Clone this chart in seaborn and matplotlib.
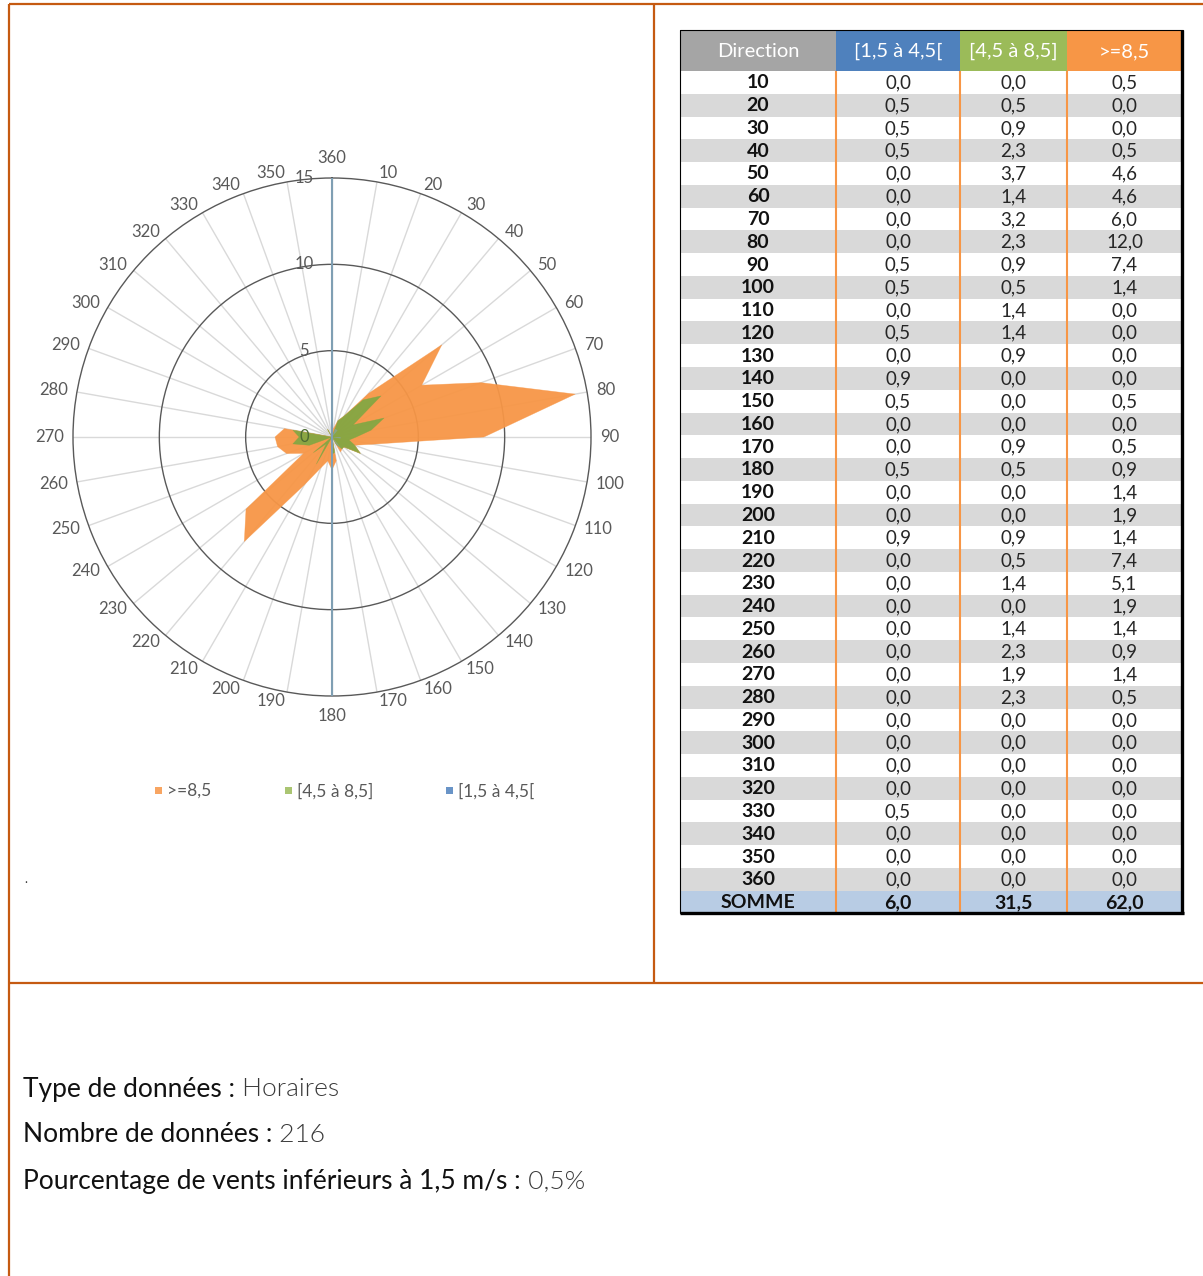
import numpy as np
import pandas as pd
import matplotlib
matplotlib.use("Agg")
import matplotlib.pyplot as plt
import matplotlib.transforms as mtransforms
from matplotlib.patches import Rectangle
import seaborn as sns

# ---------------- data ----------------
directions = [10, 20, 30, 40, 50, 60, 70, 80, 90, 100, 110, 120, 130, 140, 150, 160, 170, 180,
              190, 200, 210, 220, 230, 240, 250, 260, 270, 280, 290, 300, 310, 320, 330, 340, 350, 360]
low = [0.0, 0.5, 0.5, 0.5, 0.0, 0.0, 0.0, 0.0, 0.5, 0.5, 0.0, 0.5, 0.0, 0.9, 0.5, 0.0, 0.0, 0.5,
       0.0, 0.0, 0.9, 0.0, 0.0, 0.0, 0.0, 0.0, 0.0, 0.0, 0.0, 0.0, 0.0, 0.0, 0.5, 0.0, 0.0, 0.0]
mid = [0.0, 0.5, 0.9, 2.3, 3.7, 1.4, 3.2, 2.3, 0.9, 0.5, 1.4, 1.4, 0.9, 0.0, 0.0, 0.0, 0.9, 0.5,
       0.0, 0.0, 0.9, 0.5, 1.4, 0.0, 1.4, 2.3, 1.9, 2.3, 0.0, 0.0, 0.0, 0.0, 0.0, 0.0, 0.0, 0.0]
high = [0.5, 0.0, 0.0, 0.5, 4.6, 4.6, 6.0, 12.0, 7.4, 1.4, 0.0, 0.0, 0.0, 0.0, 0.5, 0.0, 0.5, 0.9,
        1.4, 1.9, 1.4, 7.4, 5.1, 1.9, 1.4, 0.9, 1.4, 0.5, 0.0, 0.0, 0.0, 0.0, 0.0, 0.0, 0.0, 0.0]
totals = [6.0, 31.5, 62.0]
series_names = ["[1,5 à 4,5[", "[4,5 à 8,5]", ">=8,5"]
series_colors = ["#4f81bd", "#9bbb59", "#f79646"]
fill_colors = ["#8aa6d6", "#77a842", "#f79646"]
radial_ticks = [0, 5, 10, 15]
info_labels = ["Type de données :", "Nombre de données :", "Pourcentage de vents inférieurs à 1,5 m/s :"]
info_values = ["Horaires", "216", "0,5%"]

# ---------------- setup ----------------
sns.set_theme(style="white")
plt.rcParams["font.family"] = ["Lato", "DejaVu Sans"]

W, H = 1203, 1276
fig = plt.figure(figsize=(W / 100, H / 100), dpi=100)
fig.patch.set_facecolor("white")

bg = fig.add_axes([0, 0, 1, 1])
bg.set_xlim(0, W)
bg.set_ylim(H, 0)
bg.axis("off")

BORDER = "#c55a11"
bg.plot([9, 9], [4, H], color=BORDER, lw=1.6, solid_capstyle="butt")
bg.plot([9, W], [4, 4], color=BORDER, lw=1.6, solid_capstyle="butt")
bg.plot([654, 654], [4, 983], color=BORDER, lw=1.6, solid_capstyle="butt")
bg.plot([9, W], [983, 983], color=BORDER, lw=1.6, solid_capstyle="butt")


def fmt(v):
    return f"{v:.1f}".replace(".", ",")


# ---------------- table ----------------
xe = [680, 836, 960, 1067, 1182]
ytop, yhead = 30, 71
rh = 22.77
head_cols = ["#a5a5a5"] + series_colors
head_txt = ["Direction"] + series_names
for j in range(4):
    bg.add_patch(Rectangle((xe[j], ytop), xe[j + 1] - xe[j], yhead - ytop, color=head_cols[j], lw=0))
    bg.text((xe[j] + xe[j + 1]) / 2, (ytop + yhead) / 2 + 1, head_txt[j], color="white",
            fontsize=14.5, ha="center", va="center")

cols = [low, mid, high]
for i, d in enumerate(directions):
    y0 = yhead + i * rh
    c = "white" if i % 2 == 0 else "#d9d9d9"
    bg.add_patch(Rectangle((xe[0], y0), xe[4] - xe[0], rh, color=c, lw=0))
    yc = y0 + rh / 2 + 0.5
    bg.text((xe[0] + xe[1]) / 2, yc, str(d), fontsize=14, fontweight="bold",
            color="#111111", ha="center", va="center")
    for j in range(3):
        bg.text((xe[j + 1] + xe[j + 2]) / 2, yc, fmt(cols[j][i]), fontsize=13.5,
                color="#262626", ha="center", va="center")

y0 = yhead + len(directions) * rh
bg.add_patch(Rectangle((xe[0], y0), xe[4] - xe[0], 913 - y0, color="#b8cce4", lw=0))
yc = (y0 + 913) / 2 + 0.5
bg.text((xe[0] + xe[1]) / 2, yc, "SOMME", fontsize=14, fontweight="bold",
        color="#111111", ha="center", va="center")
for j in range(3):
    bg.text((xe[j + 1] + xe[j + 2]) / 2, yc, fmt(totals[j]), fontsize=14, fontweight="bold",
            color="#111111", ha="center", va="center")

for x in xe[1:4]:
    bg.plot([x, x], [yhead, 913], color="#f79646", lw=1.5, solid_capstyle="butt")

bg.plot([680, 680], [ytop, 913], color="black", lw=0.8)
bg.plot([680, 1183], [ytop, ytop], color="black", lw=0.8)
bg.plot([1182, 1182], [ytop, 914], color="black", lw=2.4, solid_capstyle="butt")
bg.plot([680, 1183.5], [912.5, 912.5], color="black", lw=2.4, solid_capstyle="butt")

# ---------------- legend (manual) ----------------
leg_pos = [(155, series_names[2], series_colors[2]),
           (285, series_names[1], series_colors[1]),
           (446, series_names[0], series_colors[0])]
for x, name, c in leg_pos:
    bg.add_patch(Rectangle((x, 787), 7, 7, color=c, lw=0, alpha=0.85))
    bg.text(x + 12, 791, name, fontsize=12.5, color="#595959", ha="left", va="center")

bg.text(24, 879, ".", fontsize=9, color="#333333", ha="left", va="center")

# ---------------- info text ----------------
for k, (lab, val) in enumerate(zip(info_labels, info_values)):
    yc = 1089 + k * 46
    t1 = bg.text(23, yc, lab, fontsize=19, color="#111111", ha="left", va="center")
    bg.annotate(" " + val, xy=(1, 0), xycoords=t1, va="bottom", ha="left",
                fontsize=19, color="#3a3a3a", fontweight=300)

# ---------------- polar radar ----------------
cx, cy, R = 332, 437, 259
ax = fig.add_axes([(cx - R) / W, 1 - (cy + R) / H, 2 * R / W, 2 * R / H], projection="polar")
ax.patch.set_alpha(0)
ax.set_theta_zero_location("N")
ax.set_theta_direction(-1)

theta = np.radians(directions)
cum1 = np.array(low)
cum2 = cum1 + np.array(mid)
cum3 = cum2 + np.array(high)
th_c = np.append(theta, theta[0] + 2 * np.pi)

rows = []
for name, r in zip(series_names[::-1], [cum3, cum2, cum1]):
    rc = np.append(r, r[0])
    for t, v in zip(th_c, rc):
        rows.append({"theta": t, "r": v, "serie": name})
df = pd.DataFrame(rows)

fill_z = {">=8,5": 2.0, "[4,5 à 8,5]": 2.4, "[1,5 à 4,5[": 2.6}
fill_a = {">=8,5": 0.95, "[4,5 à 8,5]": 0.85, "[1,5 à 4,5[": 0.45}
for name, r, fc in zip(series_names[::-1], [cum3, cum2, cum1], fill_colors[::-1]):
    rc = np.append(r, r[0])
    ax.fill(th_c, rc, color=fc, alpha=fill_a[name], lw=0, zorder=fill_z[name])

sns.lineplot(data=df[df["serie"] != series_names[0]], x="theta", y="r", hue="serie",
             palette=dict(zip(series_names, fill_colors)),
             sort=False, estimator=None, legend=False, ax=ax, lw=0.4, zorder=2.7, alpha=0.6)
ax.set_xlabel("")
ax.set_ylabel("")

ax.set_ylim(0, 15)
ax.set_xticks(np.radians(np.arange(0, 360, 10)))
ax.set_xticklabels([])
ax.set_yticks([5, 10])
ax.set_yticklabels([])
ax.tick_params(length=0)
ax.xaxis.grid(True, color="#d9d9d9", lw=1.0)
ax.yaxis.grid(True, color="#595959", lw=1.0)
ax.spines["polar"].set_color("#595959")
ax.spines["polar"].set_linewidth(1.0)
for gl in ax.xaxis.get_gridlines() + ax.yaxis.get_gridlines():
    gl.set_zorder(1)

ax.plot([0, 0], [0, 15], color="#7f9fb3", lw=1.5, zorder=4)
ax.plot([np.pi, np.pi], [0, 15], color="#7f9fb3", lw=1.5, zorder=4)

for d in range(0, 360, 10):
    lab = "360" if d == 0 else str(d)
    t = np.radians(d)
    s, c = np.sin(t), np.cos(t)
    if abs(s) < 0.05:
        ha = "center"
        va = "bottom" if c > 0 else "top"
        r_lab = 271.0 / R * 15
    else:
        ha = "left" if s > 0 else "right"
        va = "center"
        r_lab = 268.0 / R * 15
    ax.text(t, r_lab, lab, fontsize=12, color="#595959",
            ha=ha, va=va, clip_on=False)

trans = ax.transData + mtransforms.ScaledTranslation(-0.28, 0, fig.dpi_scale_trans)
for v in radial_ticks:
    zc = 3.0 if v == 0 else 2.2
    col = "#4d6b33" if v == 0 else "#595959"
    ax.text(0, v, str(v), transform=trans, fontsize=12, color=col,
            ha="center", va="center", zorder=zc)

fig.savefig("out.png", dpi=100)
